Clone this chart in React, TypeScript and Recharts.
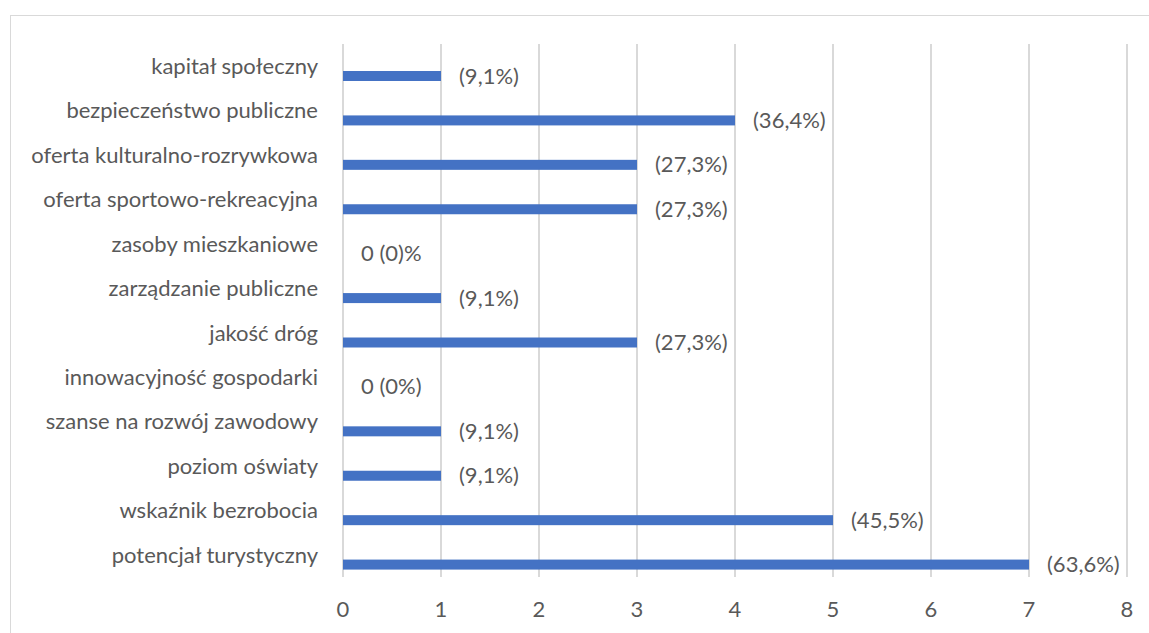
import { BarChart, Bar, XAxis, YAxis, CartesianGrid, LabelList } from 'recharts'

const categories = [
  'kapitał społeczny',
  'bezpieczeństwo publiczne',
  'oferta kulturalno-rozrywkowa',
  'oferta sportowo-rekreacyjna',
  'zasoby mieszkaniowe',
  'zarządzanie publiczne',
  'jakość dróg',
  'innowacyjność gospodarki',
  'szanse na rozwój zawodowy',
  'poziom oświaty',
  'wskaźnik bezrobocia',
  'potencjał turystyczny',
]

const counts = [1, 4, 3, 3, 0, 1, 3, 0, 1, 1, 5, 7]

const percentLabels = [
  '(9,1%)',
  '(36,4%)',
  '(27,3%)',
  '(27,3%)',
  '0 (0)%',
  '(9,1%)',
  '(27,3%)',
  '0 (0%)',
  '(9,1%)',
  '(9,1%)',
  '(45,5%)',
  '(63,6%)',
]

const xTicks = [0, 1, 2, 3, 4, 5, 6, 7, 8]

const BAR_COLOR = '#4472c4'
const TEXT_COLOR = '#595959'
const FONT = 'Lato, "Open Sans", sans-serif'
const FONT_SIZE = 22
const BAR_SHIFT = 10 // bar sits below the category label, like the original

export default function App() {
  const data = categories.map((name, i) => ({
    name,
    value: counts[i],
    label: percentLabels[i],
  }))

  return (
    <div
      style={{
        position: 'absolute',
        left: 0,
        top: 0,
        width: 1149,
        height: 633,
        background: '#fff',
        overflow: 'hidden',
        fontFamily: FONT,
      }}
    >
      <div
        style={{
          position: 'absolute',
          left: 10,
          top: 15,
          width: 1160,
          height: 640,
          border: '1px solid #d9d9d9',
        }}
      />
      <BarChart
        layout="vertical"
        width={1149}
        height={633}
        data={data}
        margin={{ top: 44, right: 22, bottom: 0, left: 0 }}
        style={{ position: 'absolute', left: 0, top: 0 }}
      >
        <CartesianGrid horizontal={false} stroke="#d9d9d9" strokeWidth={2} />
        <XAxis
          type="number"
          domain={[0, 8]}
          ticks={xTicks}
          axisLine={false}
          tickLine={false}
          tickSize={0}
          tickMargin={24}
          height={56}
          tick={{ fill: TEXT_COLOR, fontSize: FONT_SIZE, fontFamily: FONT }}
        />
        <YAxis
          type="category"
          dataKey="name"
          width={343}
          interval={0}
          axisLine={false}
          tickLine={false}
          tickSize={0}
          tickMargin={25}
          tick={{ fill: TEXT_COLOR, fontSize: FONT_SIZE, fontFamily: FONT }}
        />
        <Bar
          dataKey="value"
          barSize={10}
          fill={BAR_COLOR}
          isAnimationActive={false}
          shape={(p: any) => (
            <rect
              x={p.x}
              y={p.y + BAR_SHIFT}
              width={Math.max(0, p.width)}
              height={p.height}
              fill={BAR_COLOR}
            />
          )}
        >
          <LabelList
            dataKey="label"
            content={(p: any) => (
              <text
                x={Number(p.x) + Number(p.width) + 18}
                y={Number(p.y) + BAR_SHIFT + Number(p.height) / 2 - 1}
                dominantBaseline="central"
                fill={TEXT_COLOR}
                fontSize={FONT_SIZE}
                fontFamily={FONT}
              >
                {p.value}
              </text>
            )}
          />
        </Bar>
      </BarChart>
    </div>
  )
}
